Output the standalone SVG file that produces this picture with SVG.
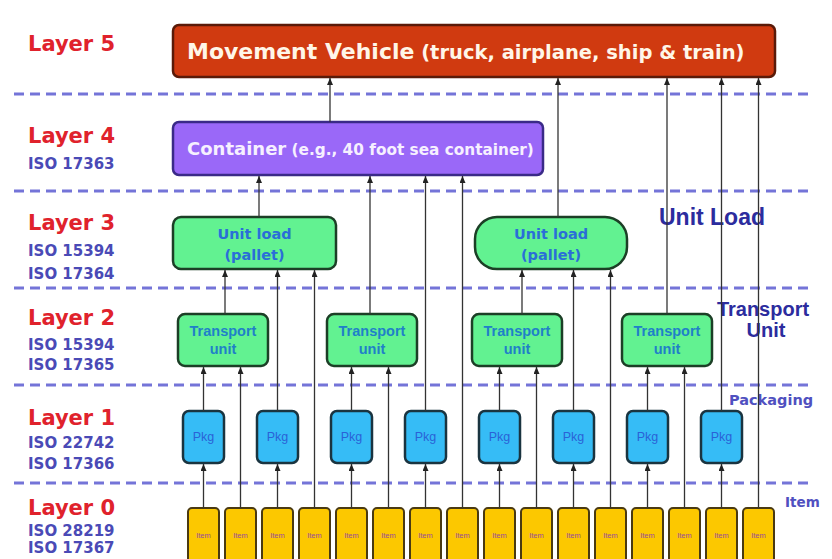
<svg xmlns="http://www.w3.org/2000/svg" width="832" height="559" viewBox="0 0 832 559">
  <style>
    .bg { fill: #ffffff; }
    .sep { stroke: #7474d8; stroke-width: 3; stroke-dasharray: 10 6; fill: none; }
    .layer { font-family: "DejaVu Sans", Verdana, sans-serif; font-weight: bold; font-size: 21px; fill: #e0222c; }
    .iso { font-family: "DejaVu Sans", Verdana, sans-serif; font-weight: bold; font-size: 15px; fill: #4a4ab6; }
    .side { font-family: "Liberation Sans", Arial, sans-serif; font-weight: bold; fill: #2c2c9e; text-anchor: middle; }
    .side-sm { font-family: "DejaVu Sans", Verdana, sans-serif; font-weight: bold; fill: #5050c0; }
    .mv { fill: #d03a10; stroke: #5a1a08; stroke-width: 2.5; }
    .ctr { fill: #9a68f8; stroke: #3a2a88; stroke-width: 2.5; }
    .ul { fill: #62f291; stroke: #1c3f26; stroke-width: 2.5; }
    .tu { fill: #62f291; stroke: #1c3f26; stroke-width: 2.5; }
    .pkg { fill: #36bcf6; stroke: #1a3440; stroke-width: 2.5; }
    .item { fill: #fcc800; stroke: #4a3a12; stroke-width: 2; }
    .mvtxt { font-family: "DejaVu Sans", Verdana, sans-serif; font-weight: bold; fill: #fff6e8; }
    .ctrtxt { font-family: "DejaVu Sans", Verdana, sans-serif; font-weight: bold; fill: #f6f0ff; }
    .ultxt { font-family: "DejaVu Sans", Verdana, sans-serif; font-weight: bold; font-size: 14.5px; fill: #2a6ed8; text-anchor: middle; }
    .tutxt { font-family: "Liberation Sans", Arial, sans-serif; font-weight: bold; font-size: 14.5px; fill: #1f80c8; text-anchor: middle; }
    .pkgtxt { font-family: "Liberation Sans", Arial, sans-serif; font-size: 12.5px; fill: #2a62d6; text-anchor: middle; }
    .itemtxt { font-family: "Liberation Sans", Arial, sans-serif; font-size: 7.5px; fill: #9a4a9e; text-anchor: middle; }
    .link { stroke: #333333; stroke-width: 1.3; fill: none; marker-end: url(#arrow); }
  </style>
  <defs>
    <marker id="arrow" markerUnits="userSpaceOnUse" markerWidth="7" markerHeight="6" refX="7" refY="3" orient="auto">
      <path d="M0,0 L7,3 L0,6 z" fill="#222222"/>
    </marker>
  </defs>

  <rect class="bg" x="0" y="0" width="832" height="559"/>

  <!-- layer separators -->
  <g id="separators">
    <line class="sep" x1="14" y1="94" x2="808" y2="94"/>
    <line class="sep" x1="14" y1="191" x2="808" y2="191"/>
    <line class="sep" x1="14" y1="288" x2="808" y2="288"/>
    <line class="sep" x1="14" y1="385" x2="808" y2="385"/>
    <line class="sep" x1="14" y1="483" x2="808" y2="483"/>
  </g>

  <!-- layer titles and standards -->
  <g id="layer-labels">
    <text class="layer" x="28" y="51">Layer 5</text>
    <text class="layer" x="28" y="143">Layer 4</text>
    <text class="iso" x="28" y="169">ISO 17363</text>
    <text class="layer" x="28" y="230">Layer 3</text>
    <text class="iso" x="28" y="256">ISO 15394</text>
    <text class="iso" x="28" y="279">ISO 17364</text>
    <text class="layer" x="28" y="325">Layer 2</text>
    <text class="iso" x="28" y="350">ISO 15394</text>
    <text class="iso" x="28" y="370">ISO 17365</text>
    <text class="layer" x="28" y="425">Layer 1</text>
    <text class="iso" x="28" y="448">ISO 22742</text>
    <text class="iso" x="28" y="469">ISO 17366</text>
    <text class="layer" x="28" y="515">Layer 0</text>
    <text class="iso" x="28" y="536">ISO 28219</text>
    <text class="iso" x="28" y="553">ISO 17367</text>
  </g>

  <!-- right-hand level names -->
  <g id="level-names">
    <text class="side" x="712" y="225" font-size="23">Unit Load</text>
    <text class="side" x="763" y="316" font-size="20">Transport</text>
    <text class="side" x="766" y="337" font-size="20">Unit</text>
    <text class="side-sm" x="729" y="405" font-size="14.5">Packaging</text>
    <text class="side-sm" x="785" y="507" font-size="13.5">Item</text>
  </g>

  <!-- Layer 5 -->
  <g id="movement-vehicle">
    <rect class="mv" x="173" y="25" width="602" height="52" rx="6"/>
    <text class="mvtxt" x="187" y="59"><tspan font-size="22">Movement Vehicle</tspan><tspan font-size="19.5"> (truck, airplane, ship &amp; train)</tspan></text>
  </g>

  <!-- Layer 4 -->
  <g id="container">
    <rect class="ctr" x="173" y="122" width="370" height="53" rx="6"/>
    <text class="ctrtxt" x="187" y="155"><tspan font-size="18">Container</tspan><tspan font-size="15.3"> (e.g., 40 foot sea container)</tspan></text>
  </g>

  <!-- Layer 3 -->
  <g id="unit-load-1">
    <rect class="ul" x="173" y="217" width="163" height="52" rx="8"/>
    <text class="ultxt" x="254.5" y="239">Unit load</text>
    <text class="ultxt" x="254.5" y="260">(pallet)</text>
  </g>
  <g id="unit-load-2">
    <rect class="ul" x="475" y="217" width="152" height="52" rx="22"/>
    <text class="ultxt" x="551" y="239">Unit load</text>
    <text class="ultxt" x="551" y="260">(pallet)</text>
  </g>

  <!-- Layer 2 -->
  <g id="transport-1">
    <rect class="tu" x="178" y="314" width="90" height="52" rx="7"/>
    <text class="tutxt" x="223" y="336">Transport</text>
    <text class="tutxt" x="223" y="354">unit</text>
  </g>
  <g id="transport-2">
    <rect class="tu" x="327" y="314" width="90" height="52" rx="7"/>
    <text class="tutxt" x="372" y="336">Transport</text>
    <text class="tutxt" x="372" y="354">unit</text>
  </g>
  <g id="transport-3">
    <rect class="tu" x="472" y="314" width="90" height="52" rx="7"/>
    <text class="tutxt" x="517" y="336">Transport</text>
    <text class="tutxt" x="517" y="354">unit</text>
  </g>
  <g id="transport-4">
    <rect class="tu" x="622" y="314" width="90" height="52" rx="7"/>
    <text class="tutxt" x="667" y="336">Transport</text>
    <text class="tutxt" x="667" y="354">unit</text>
  </g>

  <!-- Layer 1 -->
  <g id="pkg-1"><rect class="pkg" x="183" y="411" width="41" height="52" rx="6"/><text class="pkgtxt" x="203.5" y="441">Pkg</text></g>
  <g id="pkg-2"><rect class="pkg" x="257" y="411" width="41" height="52" rx="6"/><text class="pkgtxt" x="277.5" y="441">Pkg</text></g>
  <g id="pkg-3"><rect class="pkg" x="331" y="411" width="41" height="52" rx="6"/><text class="pkgtxt" x="351.5" y="441">Pkg</text></g>
  <g id="pkg-4"><rect class="pkg" x="405" y="411" width="41" height="52" rx="6"/><text class="pkgtxt" x="425.5" y="441">Pkg</text></g>
  <g id="pkg-5"><rect class="pkg" x="479" y="411" width="41" height="52" rx="6"/><text class="pkgtxt" x="499.5" y="441">Pkg</text></g>
  <g id="pkg-6"><rect class="pkg" x="553" y="411" width="41" height="52" rx="6"/><text class="pkgtxt" x="573.5" y="441">Pkg</text></g>
  <g id="pkg-7"><rect class="pkg" x="627" y="411" width="41" height="52" rx="6"/><text class="pkgtxt" x="647.5" y="441">Pkg</text></g>
  <g id="pkg-8"><rect class="pkg" x="701" y="411" width="41" height="52" rx="6"/><text class="pkgtxt" x="721.5" y="441">Pkg</text></g>

  <!-- Layer 0 -->
  <g id="item-1"><rect class="item" x="188" y="508" width="31" height="60" rx="4"/><text class="itemtxt" x="203.5" y="538">Item</text></g>
  <g id="item-2"><rect class="item" x="225" y="508" width="31" height="60" rx="4"/><text class="itemtxt" x="240.5" y="538">Item</text></g>
  <g id="item-3"><rect class="item" x="262" y="508" width="31" height="60" rx="4"/><text class="itemtxt" x="277.5" y="538">Item</text></g>
  <g id="item-4"><rect class="item" x="299" y="508" width="31" height="60" rx="4"/><text class="itemtxt" x="314.5" y="538">Item</text></g>
  <g id="item-5"><rect class="item" x="336" y="508" width="31" height="60" rx="4"/><text class="itemtxt" x="351.5" y="538">Item</text></g>
  <g id="item-6"><rect class="item" x="373" y="508" width="31" height="60" rx="4"/><text class="itemtxt" x="388.5" y="538">Item</text></g>
  <g id="item-7"><rect class="item" x="410" y="508" width="31" height="60" rx="4"/><text class="itemtxt" x="425.5" y="538">Item</text></g>
  <g id="item-8"><rect class="item" x="447" y="508" width="31" height="60" rx="4"/><text class="itemtxt" x="462.5" y="538">Item</text></g>
  <g id="item-9"><rect class="item" x="484" y="508" width="31" height="60" rx="4"/><text class="itemtxt" x="499.5" y="538">Item</text></g>
  <g id="item-10"><rect class="item" x="521" y="508" width="31" height="60" rx="4"/><text class="itemtxt" x="536.5" y="538">Item</text></g>
  <g id="item-11"><rect class="item" x="558" y="508" width="31" height="60" rx="4"/><text class="itemtxt" x="573.5" y="538">Item</text></g>
  <g id="item-12"><rect class="item" x="595" y="508" width="31" height="60" rx="4"/><text class="itemtxt" x="610.5" y="538">Item</text></g>
  <g id="item-13"><rect class="item" x="632" y="508" width="31" height="60" rx="4"/><text class="itemtxt" x="647.5" y="538">Item</text></g>
  <g id="item-14"><rect class="item" x="669" y="508" width="31" height="60" rx="4"/><text class="itemtxt" x="684.5" y="538">Item</text></g>
  <g id="item-15"><rect class="item" x="706" y="508" width="31" height="60" rx="4"/><text class="itemtxt" x="721.5" y="538">Item</text></g>
  <g id="item-16"><rect class="item" x="743" y="508" width="31" height="60" rx="4"/><text class="itemtxt" x="758.5" y="538">Item</text></g>

  <!-- upward flows between levels -->
  <g id="connectors">
    <!-- items into packages -->
    <line class="link" x1="203.5" y1="508" x2="203.5" y2="464"/>
    <line class="link" x1="277.5" y1="508" x2="277.5" y2="464"/>
    <line class="link" x1="351.5" y1="508" x2="351.5" y2="464"/>
    <line class="link" x1="425.5" y1="508" x2="425.5" y2="464"/>
    <line class="link" x1="499.5" y1="508" x2="499.5" y2="464"/>
    <line class="link" x1="573.5" y1="508" x2="573.5" y2="464"/>
    <line class="link" x1="647.5" y1="508" x2="647.5" y2="464"/>
    <line class="link" x1="721.5" y1="508" x2="721.5" y2="464"/>
    <!-- into transport units -->
    <line class="link" x1="203.5" y1="411" x2="203.5" y2="367"/>
    <line class="link" x1="240.5" y1="508" x2="240.5" y2="367"/>
    <line class="link" x1="351.5" y1="411" x2="351.5" y2="367"/>
    <line class="link" x1="388.5" y1="508" x2="388.5" y2="367"/>
    <line class="link" x1="499.5" y1="411" x2="499.5" y2="367"/>
    <line class="link" x1="536.5" y1="508" x2="536.5" y2="367"/>
    <line class="link" x1="647.5" y1="411" x2="647.5" y2="367"/>
    <line class="link" x1="684.5" y1="508" x2="684.5" y2="367"/>
    <!-- into unit loads -->
    <line class="link" x1="225" y1="314" x2="225" y2="270"/>
    <line class="link" x1="277.5" y1="411" x2="277.5" y2="270"/>
    <line class="link" x1="314.5" y1="508" x2="314.5" y2="270"/>
    <line class="link" x1="522" y1="314" x2="522" y2="270"/>
    <line class="link" x1="573.5" y1="411" x2="573.5" y2="270"/>
    <line class="link" x1="610.5" y1="508" x2="610.5" y2="270"/>
    <!-- into the container -->
    <line class="link" x1="259" y1="217" x2="259" y2="176"/>
    <line class="link" x1="370" y1="314" x2="370" y2="176"/>
    <line class="link" x1="425.5" y1="411" x2="425.5" y2="176"/>
    <line class="link" x1="462.5" y1="508" x2="462.5" y2="176"/>
    <!-- into the movement vehicle -->
    <line class="link" x1="330" y1="122" x2="330" y2="78"/>
    <line class="link" x1="558" y1="217" x2="558" y2="78"/>
    <line class="link" x1="667" y1="314" x2="667" y2="78"/>
    <line class="link" x1="721.5" y1="411" x2="721.5" y2="78"/>
    <line class="link" x1="758.5" y1="508" x2="758.5" y2="78"/>
  </g>
</svg>
